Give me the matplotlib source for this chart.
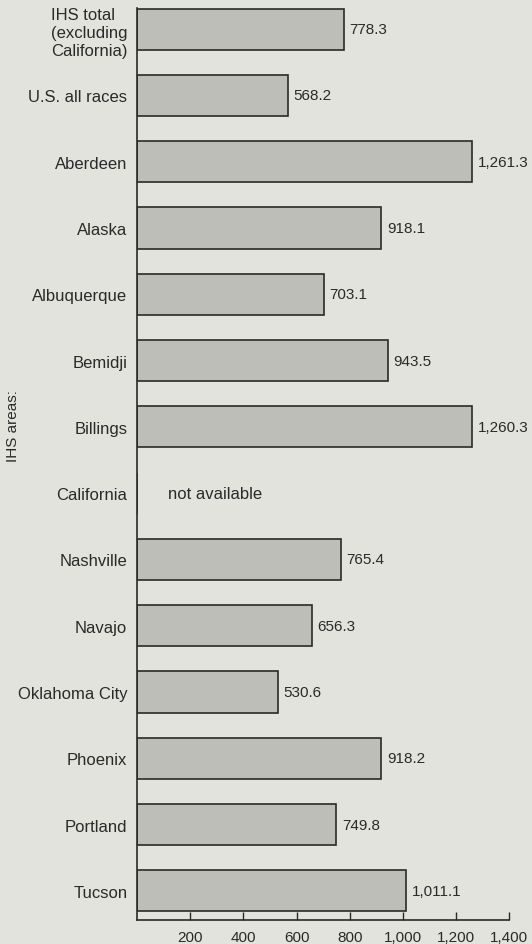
import numpy as np
import matplotlib

matplotlib.use("Agg")
import matplotlib.pyplot as plt

# categories, top to bottom
areas = [
    "IHS total\n(excluding\nCalifornia)", "U.S. all races", "Aberdeen", "Alaska",
    "Albuquerque", "Bemidji", "Billings", "California", "Nashville", "Navajo",
    "Oklahoma City", "Phoenix", "Portland", "Tucson",
]
rates = [778.3, 568.2, 1261.3, 918.1, 703.1, 943.5, 1260.3, np.nan,
         765.4, 656.3, 530.6, 918.2, 749.8, 1011.1]
xticks = [200, 400, 600, 800, 1000, 1200, 1400]

BG = "#e2e3dd"
BAR = "#bebeb9"
INK = "#2a2a2a"
FS = 11
FS_LAB = 12

plt.rcParams["font.family"] = ["Liberation Sans", "DejaVu Sans"]

fig = plt.figure(figsize=(5.32, 9.45), dpi=100, facecolor=BG)
ax = fig.add_axes([0.2575, 0.0254, 0.700, 0.9651], facecolor=BG)

y = np.arange(len(areas))
vals = np.array(rates, dtype=float)
ax.barh(y, np.nan_to_num(vals), height=0.62, color=BAR, edgecolor=INK, lw=1.2)

for yi, v in zip(y, vals):
    if np.isnan(v):
        ax.annotate("not available", (0, yi), xytext=(22, 0), textcoords="offset points",
                    va="center", ha="left", fontsize=FS_LAB, color=INK)
    else:
        ax.annotate(f"{v:,.1f}", (v, yi), xytext=(4, 0), textcoords="offset points",
                    va="center", ha="left", fontsize=FS, color=INK)

ax.set_xlim(0, 1400)
ax.set_ylim(13.44, -0.32)
ax.set_yticks(y)
ax.set_yticklabels(areas, fontsize=FS_LAB, color=INK, ma="left", linespacing=1.25)
ax.tick_params(axis="y", length=0, pad=7)
ax.set_xticks(xticks)
ax.set_xticklabels([f"{t:,}" for t in xticks], fontsize=FS, color=INK)
ax.tick_params(axis="x", direction="in", length=6, width=1.0, color=INK, pad=7)

for side in ("top", "right"):
    ax.spines[side].set_visible(False)
for side in ("left", "bottom"):
    ax.spines[side].set_color(INK)
    ax.spines[side].set_linewidth(1.2)

fig.text(0.024, 0.549, "IHS areas:", rotation=90, ha="center", va="center",
         fontsize=FS, color=INK)

fig.savefig("out.png", facecolor=BG)
